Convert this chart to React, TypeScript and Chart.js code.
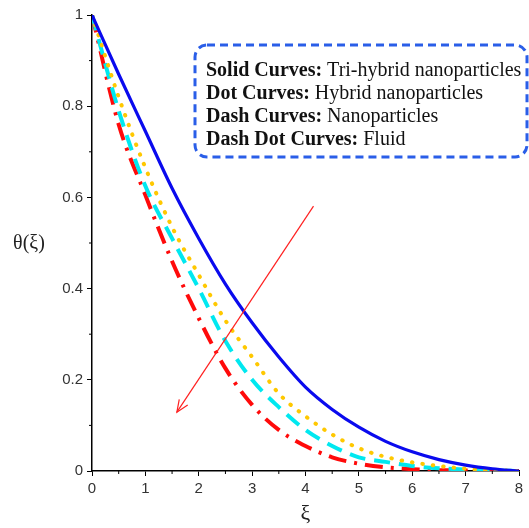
import React, { useEffect, useRef } from "react";
import { Chart, registerables } from "chart.js";

Chart.register(...registerables);

const xi = [0, 0.5, 1, 1.5, 2, 2.5, 3, 3.5, 4, 4.5, 5, 5.5, 6, 6.5, 7, 7.5, 8];
const triHybrid = [1, 0.87, 0.745, 0.62, 0.51, 0.41, 0.325, 0.25, 0.184, 0.135, 0.096, 0.065, 0.042, 0.025, 0.013, 0.005, 0];
const hybrid = [1, 0.82, 0.665, 0.535, 0.43, 0.33, 0.25, 0.17, 0.12, 0.08, 0.05, 0.031, 0.019, 0.011, 0.005, 0.002, 0];
const nano = [1, 0.79, 0.625, 0.51, 0.4, 0.285, 0.2, 0.14, 0.09, 0.055, 0.03, 0.02, 0.011, 0.006, 0.003, 0.001, 0];
const fluid = [1, 0.76, 0.605, 0.46, 0.335, 0.225, 0.145, 0.09, 0.055, 0.03, 0.016, 0.008, 0.004, 0.002, 0.001, 0, 0];

const arrowFrom = [4.15, 0.581];
const arrowTo = [1.59, 0.129];

const boxBold = ["Solid Curves:", "Dot Curves:", "Dash Curves:", "Dash Dot Curves:"];
const boxText = [" Tri-hybrid nanoparticles", " Hybrid nanoparticles", " Nanoparticles", " Fluid"];

const xLabel = "ξ";
const yLabel = "θ(ξ)";

const pts = (ys: number[]) => xi.map((x, i) => ({ x, y: ys[i] }));

const overlay = {
  id: "overlay",
  afterDraw(chart: any) {
    const ctx = chart.ctx;
    const xs = chart.scales.x;
    const ys = chart.scales.y;
    const area = chart.chartArea;
    ctx.save();
    // minor ticks
    ctx.strokeStyle = "#000";
    ctx.lineWidth = 1;
    for (let v = 0.5; v < 8; v += 1) {
      const px = xs.getPixelForValue(v);
      ctx.beginPath();
      ctx.moveTo(px, area.bottom);
      ctx.lineTo(px, area.bottom + 3);
      ctx.stroke();
    }
    for (let v = 0.1; v < 1; v += 0.2) {
      const py = ys.getPixelForValue(v);
      ctx.beginPath();
      ctx.moveTo(area.left, py);
      ctx.lineTo(area.left - 3, py);
      ctx.stroke();
    }
    // arrow
    const x1 = xs.getPixelForValue(arrowFrom[0]);
    const y1 = ys.getPixelForValue(arrowFrom[1]);
    const x2 = xs.getPixelForValue(arrowTo[0]);
    const y2 = ys.getPixelForValue(arrowTo[1]);
    ctx.strokeStyle = "#ff2020";
    ctx.lineWidth = 1.2;
    ctx.beginPath();
    ctx.moveTo(x1, y1);
    ctx.lineTo(x2, y2);
    ctx.stroke();
    const ang = Math.atan2(y2 - y1, x2 - x1);
    const hl = 13;
    ctx.beginPath();
    ctx.moveTo(x2 - hl * Math.cos(ang - 0.4), y2 - hl * Math.sin(ang - 0.4));
    ctx.lineTo(x2, y2);
    ctx.lineTo(x2 - hl * Math.cos(ang + 0.4), y2 - hl * Math.sin(ang + 0.4));
    ctx.stroke();
    // legend box
    const bx = area.left + 103;
    const by = area.top + 30;
    const bw = 332;
    const bh = 112;
    ctx.strokeStyle = "#2a5ee8";
    ctx.lineWidth = 3;
    ctx.setLineDash([8, 5]);
    ctx.beginPath();
    (ctx as any).roundRect(bx, by, bw, bh, 12);
    ctx.stroke();
    ctx.setLineDash([]);
    ctx.fillStyle = "#111";
    ctx.textBaseline = "alphabetic";
    ctx.textAlign = "left";
    const lineY = [31, 54, 77, 100];
    for (let i = 0; i < boxBold.length; i++) {
      ctx.font = "bold 20px 'Liberation Serif', 'Times New Roman', serif";
      const w = ctx.measureText(boxBold[i]).width;
      ctx.fillText(boxBold[i], bx + 11, by + lineY[i]);
      ctx.font = "20px 'Liberation Serif', 'Times New Roman', serif";
      ctx.fillText(boxText[i], bx + 11 + w, by + lineY[i]);
    }
    // axis titles
    ctx.fillStyle = "#222";
    ctx.textAlign = "center";
    ctx.textBaseline = "middle";
    ctx.font = "22px 'Liberation Serif', serif";
    ctx.fillText(xLabel, (area.left + area.right) / 2, 514);
    ctx.font = "20px 'Liberation Serif', serif";
    ctx.fillText(yLabel, 29, 244);
    ctx.restore();
  },
};

export default function App() {
  const ref = useRef<HTMLCanvasElement>(null);
  useEffect(() => {
    if (!ref.current) return;
    const tickFont = { family: "'Liberation Sans', Arial, sans-serif", size: 15 };
    const chart = new Chart(ref.current, {
      type: "line",
      data: {
        datasets: [
          { data: pts(triHybrid), borderColor: "#0a0aee", borderWidth: 3.2, pointRadius: 0, cubicInterpolationMode: "monotone" },
          { data: pts(hybrid), borderColor: "#ffc800", borderWidth: 4, borderDash: [0.5, 10], borderCapStyle: "round", pointRadius: 0, cubicInterpolationMode: "monotone" },
          { data: pts(nano), borderColor: "#00e8f0", borderWidth: 4, borderDash: [16, 9], pointRadius: 0, cubicInterpolationMode: "monotone" },
          { data: pts(fluid), borderColor: "#ff0a0a", borderWidth: 4, borderDash: [18, 8, 3, 8], pointRadius: 0, cubicInterpolationMode: "monotone" },
        ] as any,
      },
      options: {
        responsive: false,
        animation: false,
        devicePixelRatio: 1,
        layout: { padding: { left: 0, right: 10, top: 15, bottom: 0 } },
        plugins: { legend: { display: false }, tooltip: { enabled: false } },
        scales: {
          x: {
            type: "linear",
            min: 0,
            max: 8,
            ticks: { stepSize: 1, color: "#333", font: tickFont, padding: 4 },
            grid: { display: true, drawOnChartArea: false, drawTicks: true, tickLength: 5, tickColor: "#000" },
            border: { display: true, color: "#000", width: 1.5 },
            afterFit: (s: any) => { s.height = 57; },
          },
          y: {
            type: "linear",
            min: 0,
            max: 1,
            ticks: {
              stepSize: 0.2,
              color: "#333",
              font: tickFont,
              padding: 4,
              callback: (v: any) => String(Math.round(Number(v) * 10) / 10),
            },
            grid: { display: true, drawOnChartArea: false, drawTicks: true, tickLength: 5, tickColor: "#000" },
            border: { display: true, color: "#000", width: 1.5 },
            afterFit: (s: any) => { s.width = 92; },
          },
        },
      },
      plugins: [overlay],
    } as any);
    return () => chart.destroy();
  }, []);
  return (
    <div style={{ position: "absolute", left: 0, top: 0, width: 529, height: 528, background: "#fff" }}>
      <canvas ref={ref} width={529} height={528} style={{ display: "block" }} />
    </div>
  );
}
